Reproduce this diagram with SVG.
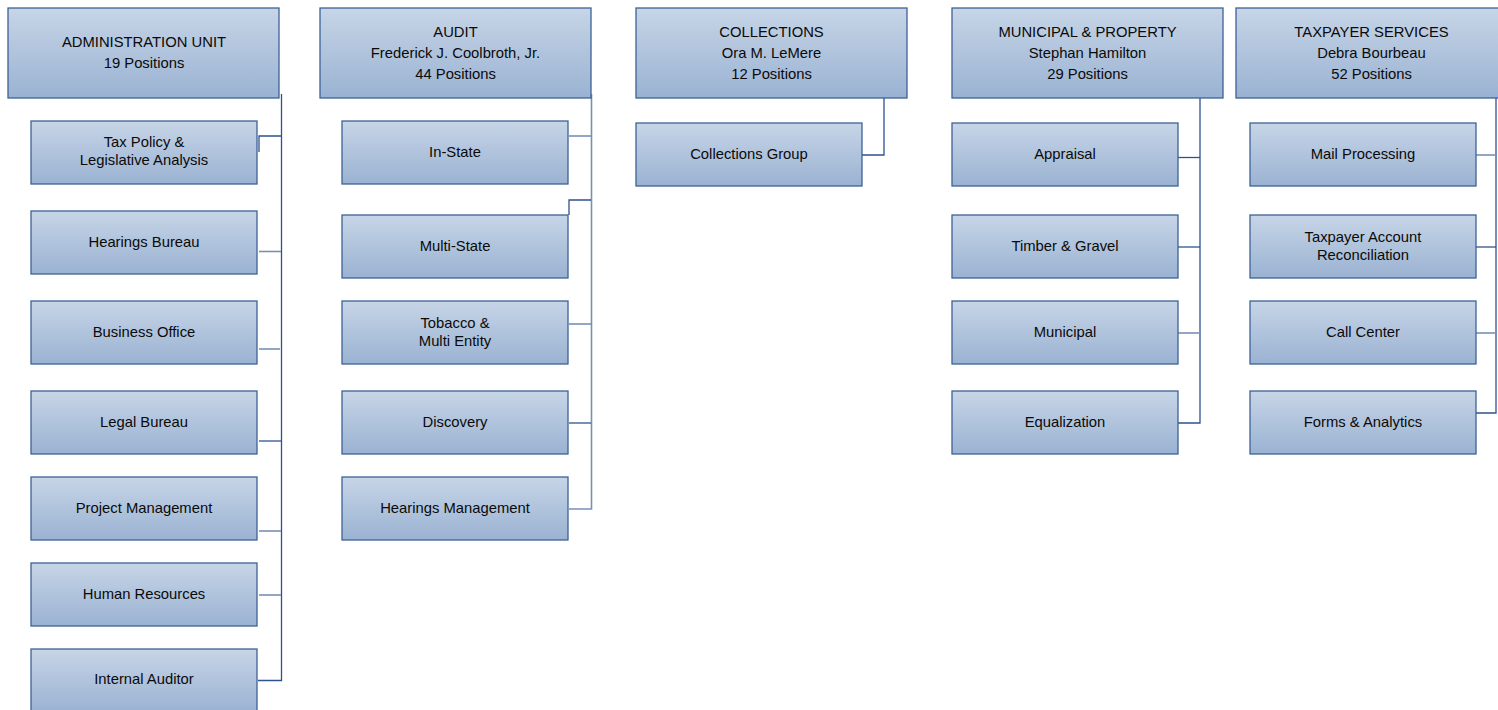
<svg xmlns="http://www.w3.org/2000/svg" width="1498" height="710" viewBox="0 0 1498 710">
<style>
.box{fill:url(#g);stroke:#3d6296;stroke-width:1.3}
.t{font-family:"Liberation Sans",Arial,sans-serif;font-size:14.8px;fill:#0a0a0a;text-anchor:middle}
.c{fill:none;stroke:#2f528f;stroke-width:1.3}
.l{fill:none;stroke:#7890b6;stroke-width:1.6}
</style>
<defs>
<linearGradient id="g" x1="0" y1="0" x2="0" y2="1">
<stop offset="0" stop-color="#c7d5e7"/>
<stop offset="1" stop-color="#9ab2d2"/>
</linearGradient>
</defs>
<rect width="1498" height="710" fill="#fff"/>
<g id="connectors">
<path class="c" d="M281.5 94V680.5H258"/>
<path class="c" d="M259 152V136H281.5"/>
<path class="l" d="M259 251.5H281"/>
<path class="l" d="M259 349H280"/>
<path class="c" d="M259 441H281"/>
<path class="l" d="M259 531H281"/>
<path class="l" d="M259 595H281"/>
<path class="l" d="M591.5 94V509H569"/>
<path class="l" d="M569 136H591"/>
<path class="c" d="M569 215V200H591"/>
<path class="l" d="M569 324H591"/>
<path class="c" d="M569 423H591"/>
<path class="c" d="M884 98V155H862"/>
<path class="c" d="M1200 94V423H1178"/>
<path class="c" d="M1178 157.5H1200"/>
<path class="c" d="M1178 247H1200"/>
<path class="l" d="M1178 333H1200"/>
<path class="c" d="M1496 98V413H1476"/>
<path class="l" d="M1476 155H1496"/>
<path class="c" d="M1476 247H1496"/>
<path class="l" d="M1476 333H1496"/>
</g>
<g id="admin"><rect class="box" x="8" y="8" width="271" height="90"/><text class="t" x="144" y="47">ADMINISTRATION UNIT</text><text class="t" x="144" y="68">19 Positions</text></g>
<g id="audit"><rect class="box" x="320" y="8" width="271" height="90"/><text class="t" x="455.5" y="37">AUDIT</text><text class="t" x="455.5" y="58">Frederick J. Coolbroth, Jr.</text><text class="t" x="455.5" y="79">44 Positions</text></g>
<g id="collections"><rect class="box" x="636" y="8" width="271" height="90"/><text class="t" x="771.5" y="37">COLLECTIONS</text><text class="t" x="771.5" y="58">Ora M. LeMere</text><text class="t" x="771.5" y="79">12 Positions</text></g>
<g id="municipal"><rect class="box" x="952" y="8" width="271" height="90"/><text class="t" x="1087.5" y="37">MUNICIPAL &amp; PROPERTY</text><text class="t" x="1087.5" y="58">Stephan Hamilton</text><text class="t" x="1087.5" y="79">29 Positions</text></g>
<g id="taxpayer"><rect class="box" x="1236" y="8" width="271" height="90"/><text class="t" x="1371.5" y="37">TAXPAYER SERVICES</text><text class="t" x="1371.5" y="58">Debra Bourbeau</text><text class="t" x="1371.5" y="79">52 Positions</text></g>

<g id="tax-policy"><rect class="box" x="31" y="121" width="226" height="63"/><text class="t" x="144" y="147">Tax Policy &amp;</text><text class="t" x="144" y="165">Legislative Analysis</text></g>
<g id="hearings-bureau"><rect class="box" x="31" y="211" width="226" height="63"/><text class="t" x="144" y="247">Hearings Bureau</text></g>
<g id="business-office"><rect class="box" x="31" y="301" width="226" height="63"/><text class="t" x="144" y="337">Business Office</text></g>
<g id="legal-bureau"><rect class="box" x="31" y="391" width="226" height="63"/><text class="t" x="144" y="427">Legal Bureau</text></g>
<g id="project-management"><rect class="box" x="31" y="477" width="226" height="63"/><text class="t" x="144" y="513">Project Management</text></g>
<g id="human-resources"><rect class="box" x="31" y="563" width="226" height="63"/><text class="t" x="144" y="599">Human Resources</text></g>
<g id="internal-auditor"><rect class="box" x="31" y="649" width="226" height="63"/><text class="t" x="144" y="684">Internal Auditor</text></g>

<g id="in-state"><rect class="box" x="342" y="121" width="226" height="63"/><text class="t" x="455" y="157">In-State</text></g>
<g id="multi-state"><rect class="box" x="342" y="215" width="226" height="63"/><text class="t" x="455" y="251">Multi-State</text></g>
<g id="tobacco"><rect class="box" x="342" y="301" width="226" height="63"/><text class="t" x="455" y="328">Tobacco &amp;</text><text class="t" x="455" y="346">Multi Entity</text></g>
<g id="discovery"><rect class="box" x="342" y="391" width="226" height="63"/><text class="t" x="455" y="427">Discovery</text></g>
<g id="hearings-management"><rect class="box" x="342" y="477" width="226" height="63"/><text class="t" x="455" y="513">Hearings Management</text></g>

<g id="collections-group"><rect class="box" x="636" y="123" width="226" height="63"/><text class="t" x="749" y="159">Collections Group</text></g>

<g id="appraisal"><rect class="box" x="952" y="123" width="226" height="63"/><text class="t" x="1065" y="159">Appraisal</text></g>
<g id="timber-gravel"><rect class="box" x="952" y="215" width="226" height="63"/><text class="t" x="1065" y="251">Timber &amp; Gravel</text></g>
<g id="municipal-unit"><rect class="box" x="952" y="301" width="226" height="63"/><text class="t" x="1065" y="337">Municipal</text></g>
<g id="equalization"><rect class="box" x="952" y="391" width="226" height="63"/><text class="t" x="1065" y="427">Equalization</text></g>

<g id="mail-processing"><rect class="box" x="1250" y="123" width="226" height="63"/><text class="t" x="1363" y="159">Mail Processing</text></g>
<g id="account-reconciliation"><rect class="box" x="1250" y="215" width="226" height="63"/><text class="t" x="1363" y="242">Taxpayer Account</text><text class="t" x="1363" y="260">Reconciliation</text></g>
<g id="call-center"><rect class="box" x="1250" y="301" width="226" height="63"/><text class="t" x="1363" y="337">Call Center</text></g>
<g id="forms-analytics"><rect class="box" x="1250" y="391" width="226" height="63"/><text class="t" x="1363" y="427">Forms &amp; Analytics</text></g>
</svg>
